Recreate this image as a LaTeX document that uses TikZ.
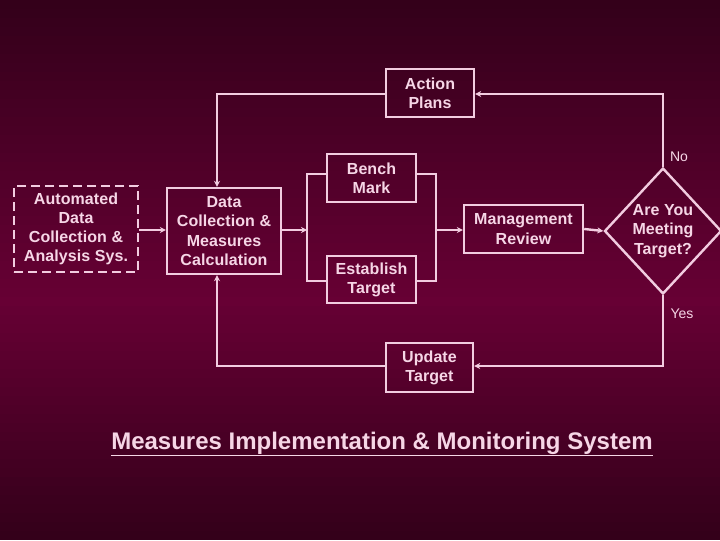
\documentclass[tikz,border=0pt]{standalone}
\usepackage{fontspec}
\setmainfont{Liberation Sans}
\newfontfamily\boxfont[LetterSpace=0.5]{Liberation Sans}
\newfontfamily\titlefont{Liberation Sans}
\usetikzlibrary{shapes.geometric,arrows.meta}
\definecolor{bgtop}{HTML}{33001A}
\definecolor{bgmid}{HTML}{670034}
\definecolor{ink}{HTML}{F6D6E6}
\definecolor{linec}{HTML}{F2CCE0}
\begin{document}
\begin{tikzpicture}[x=1pt,y=-1pt,
  box/.style={draw=linec,line width=2.4pt,rectangle,inner sep=0pt,align=center,text=ink,font=\fontsize{16}{19.2}\boxfont\bfseries},
  conn/.style={draw=linec,line width=2.4pt},
  arr/.style={conn,-{Stealth[length=6pt,width=6pt]}},
  lbl/.style={text=ink,font=\fontsize{14}{16}\selectfont,inner sep=0pt}]
\foreach \i in {0,...,59}{
  \pgfmathtruncatemacro{\p}{(\i*9+4.5)<300 ? (\i*9+4.5)/3 : (540-\i*9-4.5)/2.4}
  \fill[bgmid!\p!bgtop] (0,\i*9) rectangle (720,\i*9+9.3);
}
\useasboundingbox (0,0) rectangle (720,540);
\node[box,dashed,dash pattern=on 9pt off 5pt,minimum width=124pt,minimum height=86pt] (auto) at (76,229) {Automated\\Data\\Collection \&\\Analysis Sys.};
\node[box,minimum width=114pt,minimum height=86pt] (dc) at (224,231) {Data\\Collection \&\\Measures\\Calculation};
\node[box,minimum width=88pt,minimum height=48pt] (ap) at (430,93) {Action\\Plans};
\node[box,minimum width=89pt,minimum height=48pt] (bm) at (371.5,178) {Bench\\Mark};
\node[box,minimum width=89pt,minimum height=47pt] (et) at (371.5,279.5) {Establish\\Target};
\node[box,minimum width=119pt,minimum height=48pt] (mr) at (523.5,229) {Management\\Review};
\node[box,diamond,minimum width=117pt,minimum height=126pt] (dia) at (663,231) {};
\node[text=ink,font=\fontsize{16}{19.2}\boxfont\bfseries,align=center] (diat) at (663,231) {Are You\\Meeting\\Target?};
\node[box,minimum width=87pt,minimum height=49pt] (ut) at (429.5,367.5) {Update\\Target};
\node[lbl] (no) at (679,157) {No};
\node[lbl] (yes) at (682,314) {Yes};
\node[text=ink,font=\fontsize{24}{26}\titlefont\bfseries,inner sep=0pt] (title) at (382,444) {\underline{Measures Implementation \& Monitoring System}};
\coordinate (bl) at (307,230);
\coordinate (br) at (436,230);
\coordinate (blt) at (307,174);
\coordinate (blb) at (307,281);
\coordinate (brt) at (436,174);
\coordinate (brb) at (436,281);
\coordinate (tl) at (217,94);
\coordinate (tr) at (663,94);
\coordinate (bol) at (217,366);
\coordinate (bor) at (663,366);
\draw[arr] (auto.east |- 0,230) -- (dc.west |- 0,230);
\draw[arr] (dc.east |- bl) -- (bl);
\draw[conn] (bm.west |- blt) -- (blt) -- (blb) -- (et.west |- blb);
\draw[conn] (bm.east |- brt) -- (brt) -- (brb) -- (et.east |- brb);
\draw[arr] (br) -- (mr.west |- br);
\draw[arr] (mr.east) -- (dia.west);
\draw[arr] (dia.north) -- (tr) -- (ap.east |- tr);
\draw[arr] (ap.west |- tl) -- (tl) -- (tl |- dc.north);
\draw[arr] (dia.south) -- (bor) -- (ut.east |- bor);
\draw[arr] (ut.west |- bol) -- (bol) -- (bol |- dc.south);
\end{tikzpicture}
\end{document}
